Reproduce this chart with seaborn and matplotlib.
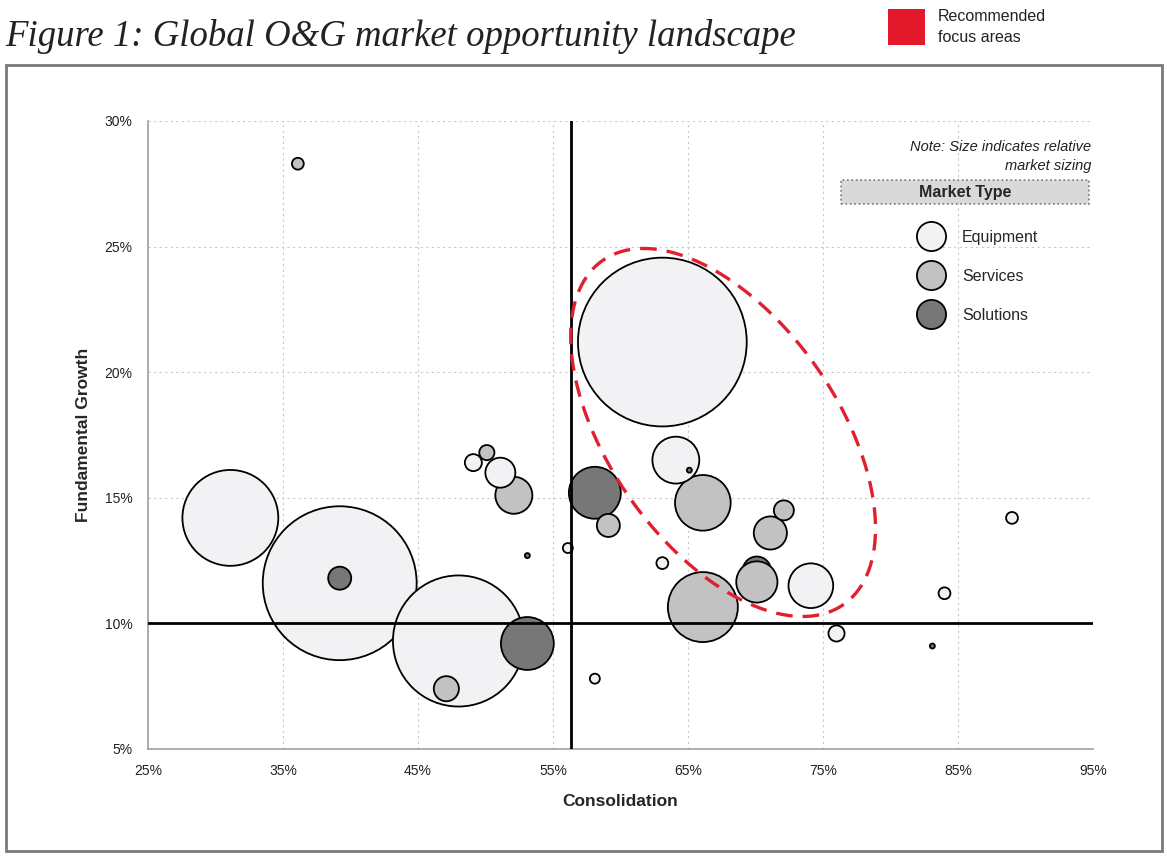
import numpy as np
import pandas as pd
import matplotlib.pyplot as plt
import seaborn as sns
from matplotlib.lines import Line2D
from matplotlib.patches import Rectangle

# --- Data (drawing order matters for the overlaps) ---
consolidation = [63.1, 39.2, 48.0, 31.1, 66.1, 66.1, 53.1, 58.1, 64.1, 74.1,
                 70.1, 70.1, 52.1, 71.1, 51.1, 39.2, 47.1, 59.1, 72.1, 49.1,
                 50.1, 76.0, 63.1, 84.0, 89.0, 36.1, 56.1, 58.1, 53.1, 65.1, 83.1]
growth = [21.2, 11.6, 9.3, 14.2, 10.65, 14.8, 9.2, 15.2, 16.5, 11.5,
          12.1, 11.65, 15.1, 13.6, 16.0, 11.8, 7.4, 13.9, 14.5, 16.4,
          16.8, 9.6, 12.4, 11.2, 14.2, 28.3, 13.0, 7.8, 12.7, 16.1, 9.1]
market_type = ['Equipment', 'Equipment', 'Equipment', 'Equipment', 'Services', 'Services',
               'Solutions', 'Solutions', 'Equipment', 'Equipment',
               'Solutions', 'Services', 'Services', 'Services', 'Equipment', 'Solutions',
               'Services', 'Services', 'Services', 'Equipment',
               'Services', 'Equipment', 'Equipment', 'Equipment', 'Equipment', 'Services',
               'Equipment', 'Equipment', 'Solutions', 'Solutions', 'Solutions']
market_size = [28.5, 23.7, 17.2, 9.2, 4.9, 3.1, 2.8, 2.7, 2.2, 2.0,
               0.8, 1.7, 1.37, 1.1, 0.9, 0.53, 0.63, 0.53, 0.4, 0.29,
               0.23, 0.26, 0.14, 0.14, 0.14, 0.14, 0.1, 0.1, 0.025, 0.025, 0.025]

type_colors = {'Equipment': '#f2f2f4', 'Services': '#c2c2c2', 'Solutions': '#777777'}
x_ticks = [25, 35, 45, 55, 65, 75, 85, 95]
y_ticks = [5, 10, 15, 20, 25, 30]

df = pd.DataFrame({'Consolidation': consolidation, 'Growth': growth,
                   'Type': market_type, 'Size': market_size})

sns.set_style('white')
plt.rcParams['font.family'] = ['Liberation Sans', 'DejaVu Sans']

W, H = 1167, 856
fig = plt.figure(figsize=(W / 100, H / 100), dpi=100)
ax = fig.add_axes([148 / W, 1 - 749 / H, 945 / W, 628 / H])

# bubble area proportional to market size
k = 518.0
smin, smax = min(market_size), max(market_size)
sns.scatterplot(data=df, x='Consolidation', y='Growth', hue='Type', palette=type_colors,
                size='Size', sizes=(k * smin, k * smax), size_norm=(smin, smax),
                edgecolor='black', linewidth=1.3, alpha=1, legend=False, ax=ax, zorder=3)

ax.set_xlim(25, 95)
ax.set_ylim(5, 30)
ax.set_xticks(x_ticks)
ax.set_yticks(y_ticks)
ax.set_xticklabels([f'{t}%' for t in x_ticks], fontsize=10)
ax.set_yticklabels([f'{t}%' for t in y_ticks], fontsize=10)
ax.grid(True, color='#c8c8c8', linestyle=(0, (2, 3)), linewidth=0.8)
for s in ['top', 'right']:
    ax.spines[s].set_visible(False)
for s in ['left', 'bottom']:
    ax.spines[s].set_color('#a0a0a0')
    ax.spines[s].set_linewidth(1.2)
ax.tick_params(axis='both', length=5, color='#a0a0a0', direction='out', pad=6, labelcolor='#222222')
ax.set_xlabel('Consolidation', fontsize=12.5, fontweight='bold', labelpad=11)
ax.set_ylabel('Fundamental Growth', fontsize=12.5, fontweight='bold', labelpad=10)

# quadrant lines
ax.axvline(56.3, color='black', linewidth=2, zorder=4)
ax.axhline(10, color='black', linewidth=2, zorder=4)

# recommended focus area (dashed red ellipse, sized in pixel space)
cx, cy = 67.6, 17.6
a_px, b_px, theta = 210, 114, np.deg2rad(55)
t = np.linspace(0, 2 * np.pi, 300)
dx = a_px * np.cos(t) * np.cos(theta) - b_px * np.sin(t) * np.sin(theta)
dy = a_px * np.cos(t) * np.sin(theta) + b_px * np.sin(t) * np.cos(theta)
ax.plot(cx + dx / 13.5, cy - dy / 25.12, color='#e0202e', linewidth=2.4,
        linestyle=(0, (5, 3)), zorder=5)

# note and legend
ax.text(0.9985, 0.97, 'Note: Size indicates relative\nmarket sizing', transform=ax.transAxes,
        ha='right', va='top', fontsize=10.5, style='italic', color='#222222', linespacing=1.45)
fig.patches.append(Rectangle((841 / W, 1 - 204 / H), 248 / W, 24 / H, transform=fig.transFigure,
                             facecolor='#d9d9d9', edgecolor='#777777', linestyle=':', linewidth=1.2))
fig.text(965 / W, 1 - 192 / H, 'Market Type', ha='center', va='center', fontsize=11.5, fontweight='bold')
handles = [Line2D([], [], marker='o', linestyle='', markersize=21, markerfacecolor=type_colors[n],
                  markeredgecolor='black', markeredgewidth=1.3, label=n) for n in type_colors]
fig.legend(handles=handles, loc='upper left', bbox_to_anchor=(907 / W, 1 - 222 / H), frameon=False,
           fontsize=11.5, labelspacing=1.5, handletextpad=0.95, borderpad=0)

# title and key
fig.text(5 / W, 1 - 36 / H, 'Figure 1: Global O&G market opportunity landscape', family=['Liberation Serif'],
         style='italic', fontsize=26.5, va='center', ha='left', color='#222222')
fig.patches.append(Rectangle((888 / W, 1 - 45 / H), 37 / W, 36 / H, transform=fig.transFigure,
                             facecolor='#e3192b', edgecolor='none'))
fig.text(938 / W, 1 - 27 / H, 'Recommended\nfocus areas', ha='left', va='center', fontsize=11.5,
         linespacing=1.5, color='#222222')

# outer frame
fig.patches.append(Rectangle((6 / W, 1 - 851 / H), 1156 / W, 786 / H, transform=fig.transFigure,
                             facecolor='none', edgecolor='#7a7a7a', linewidth=2))

fig.savefig('out.png', dpi=100)
